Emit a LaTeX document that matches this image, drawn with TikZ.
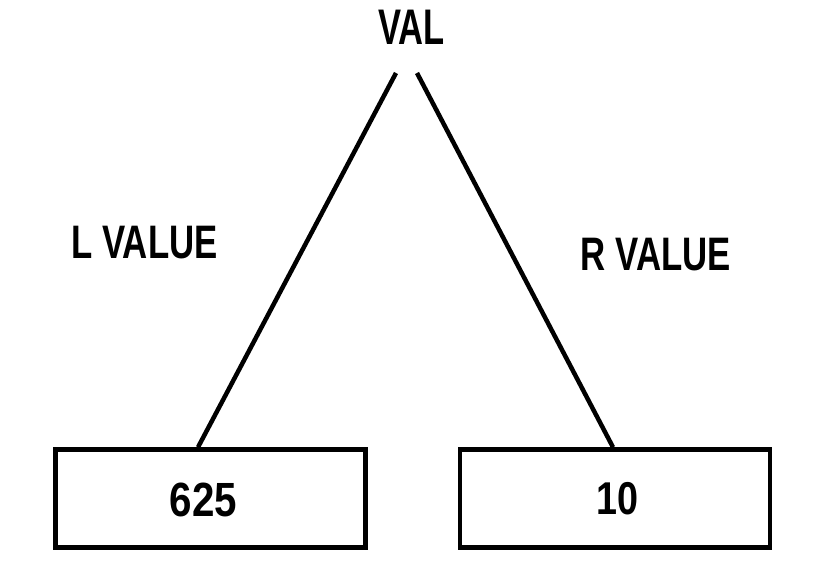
\documentclass[tikz,border=0pt]{standalone}
\usepackage{fontspec}
\setmainfont{Liberation Sans}
\begin{document}
\begin{tikzpicture}[x=1pt,y=1pt,
  lbl/.style={anchor=base,inner sep=0pt,font=\bfseries},
  valbox/.style={draw,line width=4.5pt,minimum width=310pt,minimum height=98pt,inner sep=0pt},
  edge/.style={line width=4.5pt}]
\useasboundingbox (0,0) rectangle (819,-563);
\node[lbl] (val) at (411.5,-44) {\scalebox{0.69}[1]{\fontsize{50}{52}\selectfont VAL}};
\node[lbl] (lv) at (144.5,-258) {\scalebox{0.74}[1]{\fontsize{47}{50}\selectfont L VALUE}};
\node[lbl] (rv) at (656,-270) {\scalebox{0.74}[1]{\fontsize{47}{50}\selectfont R VALUE}};
\node[valbox] (lbox) at (210.5,-498.5) {};
\node[valbox] (rbox) at (615,-498.5) {};
\node[lbl] (n625) at (203.5,-516) {\scalebox{0.84}[1]{\fontsize{48}{50}\selectfont 625}};
\node[lbl] (n10) at (617,-514) {\scalebox{0.82}[1]{\fontsize{46}{50}\selectfont 10}};
\coordinate (lt) at (396,-73);
\coordinate (rt) at (417,-73);
\draw[edge] (lt) -- (lbox.north -| 198,0);
\draw[edge] (rt) -- (rbox.north -| 613,0);
\end{tikzpicture}
\end{document}
